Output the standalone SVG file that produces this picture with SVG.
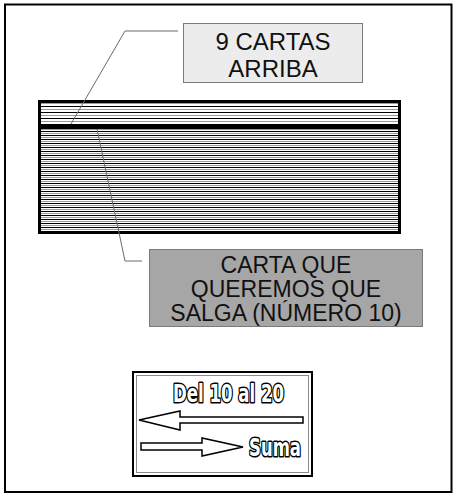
<svg xmlns="http://www.w3.org/2000/svg" width="456" height="494" viewBox="0 0 456 494">
<style>
.frame{fill:none;stroke:#000;stroke-width:2}
.leader{fill:none;stroke:#6a6a6a;stroke-width:1}
.lbl{font-family:"Liberation Sans",Arial,sans-serif;fill:#111;text-anchor:middle}
.outline{font-family:"Liberation Sans Narrow","DejaVu Sans Condensed","Liberation Sans",sans-serif;font-weight:bold;fill:#fff;stroke:#000;stroke-width:3;stroke-linejoin:round;paint-order:stroke}
.arrow{fill:#fff;stroke:#000;stroke-width:1.5;stroke-linejoin:miter}
</style>
<defs>
<pattern id="upper" patternUnits="userSpaceOnUse" x="0" y="103" width="10" height="6">
<rect x="0" y="0" width="10" height="1" fill="#9a9a9a"/>
<rect x="0" y="3" width="10" height="1" fill="#000"/>
</pattern>
<pattern id="lower" patternUnits="userSpaceOnUse" x="0" y="131" width="10" height="4">
<rect x="0" y="0" width="10" height="1" fill="#000"/>
<rect x="0" y="2" width="10" height="1" fill="#9a9a9a"/>
</pattern>
</defs>
<rect class="frame" x="5" y="4.5" width="446.5" height="487.5"/>
<g id="stack">
<rect x="40" y="101" width="360" height="23" fill="url(#upper)"/>
<rect x="40" y="129" width="360" height="104" fill="url(#lower)"/>
<rect x="39.5" y="101.5" width="360" height="131" fill="none" stroke="#000" stroke-width="3"/>
<rect x="39" y="124" width="361" height="5" fill="#000"/>
</g>
<g id="connectors">
<polyline class="leader" points="71,124 125,31 178,31"/>
<polyline class="leader" points="97,129 125,261 142,261"/>
</g>
<g id="label-top">
<rect x="183.5" y="23.5" width="179" height="59" fill="#ececec" stroke="#7a7a7a" stroke-width="1"/>
<text class="lbl" x="273" y="50" font-size="24">9 CARTAS</text>
<text class="lbl" x="273" y="77" font-size="24">ARRIBA</text>
</g>
<g id="label-card">
<rect x="149.5" y="249.5" width="273" height="77" fill="#a6a6a6" stroke="#7a7a7a" stroke-width="1"/>
<text class="lbl" x="286" y="273" font-size="23">CARTA QUE</text>
<text class="lbl" x="286" y="297" font-size="23">QUEREMOS QUE</text>
<text class="lbl" x="286" y="321" font-size="23">SALGA (NÚMERO 10)</text>
</g>
<g id="legend">
<rect x="133" y="372" width="179" height="104" fill="#fff" stroke="#000" stroke-width="2"/>
<rect x="136.5" y="375.5" width="172" height="97" fill="none" stroke="#8a8a8a" stroke-width="1"/>
<text class="outline" x="173" y="402" font-size="24" textLength="111" lengthAdjust="spacingAndGlyphs">Del 10 al 20</text>
<polygon class="arrow" points="139,420 180,411 180,417 303,417 303,423 180,423 180,430"/>
<polygon class="arrow" points="141,443 202,443 202,438 243,447 202,456 202,450 141,450"/>
<text class="outline" x="249" y="456" font-size="24" textLength="52" lengthAdjust="spacingAndGlyphs">Suma</text>
</g>
</svg>
